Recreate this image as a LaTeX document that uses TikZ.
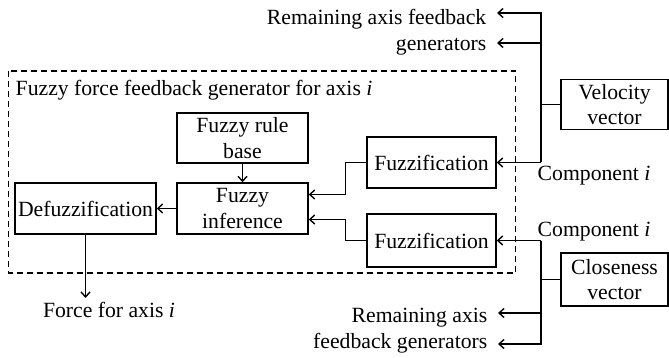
\documentclass[tikz,border=0pt]{standalone}
\usepackage{fontspec}
\setmainfont{Liberation Serif}
\usetikzlibrary{arrows.meta, positioning}

\begin{document}
\begin{tikzpicture}[x=1pt, y=-1pt, line width=1.4pt,
  block/.style={draw, align=center, inner sep=0pt},
  arr/.style={-{Straight Barb[length=5pt, width=9pt]}},
  lbl/.style={align=right, inner sep=0pt}]
\fontsize{21.7}{25.7}\selectfont
\useasboundingbox (0,0) rectangle (669,358);

\draw [dashed, dash pattern=on 6pt off 4pt] (8.5,71) rectangle (515.5,273);
\node [anchor=west, inner sep=0pt] (title) at (15,90) {Fuzzy force feedback generator for axis \textit{i}};

\node [block, minimum width=131, minimum height=50] (rule) at (242.5,138) {Fuzzy rule\\base};
\node [block, minimum width=131, minimum height=51] (infer) at (242.5,208.5) {Fuzzy\\inference};
\node [block, minimum width=141, minimum height=51] (defuzz) at (85.5,208.5) {Defuzzification};
\node [block, minimum width=129, minimum height=51] (fuzzA) at (431.5,162.5) {Fuzzification};
\node [block, minimum width=129, minimum height=53] (fuzzB) at (431.5,240.5) {Fuzzification};
\node [block, minimum width=107, minimum height=50] (vel) at (614.5,104.5) {Velocity\\vector};
\node [block, minimum width=107, minimum height=53] (close) at (614.5,279.5) {Closeness\\vector};

\node [lbl, anchor=east] (remTop) at (487,32.5) {Remaining axis feedback\\generators};
\node [lbl, anchor=east] (remBot) at (488,330.5) {Remaining axis\\feedback generators};
\node [anchor=west, inner sep=0pt] (compA) at (537,176) {Component \textit{i}};
\node [anchor=west, inner sep=0pt] (compB) at (537,232) {Component \textit{i}};
\node [inner sep=0pt] (force) at (109,310) {Force for axis \textit{i}};

\coordinate (bus) at (541,0);
\coordinate (tA) at (497,13);
\coordinate (tB) at (497,43);
\coordinate (bA) at (498,313);
\coordinate (bB) at (498,344);

\draw [arr] (infer.north |- rule.south) -- (infer.north);
\draw [arr] (infer.west) -- (defuzz.east);
\draw [arr] (fuzzA.west) -- ++(-21,0) |- ([yshift=14pt]infer.east);
\draw [arr] (fuzzB.west) -- ++(-21,0) |- ([yshift=-11pt]infer.east);
\draw [arr] (defuzz.south) -- (defuzz.south |- 0,298);

\draw (vel.west) -- (vel.west -| bus);
\draw [arr] (fuzzA.east -| bus) |- (tA);
\draw [arr] (tB -| bus) -- (tB);
\draw [arr] (fuzzA.east -| bus) -- (fuzzA.east);

\draw (close.west) -- (close.west -| bus);
\draw [arr] (fuzzB.east -| bus) |- (bB);
\draw [arr] (bA -| bus) -- (bA);
\draw [arr] (fuzzB.east -| bus) -- (fuzzB.east);
\end{tikzpicture}
\end{document}
